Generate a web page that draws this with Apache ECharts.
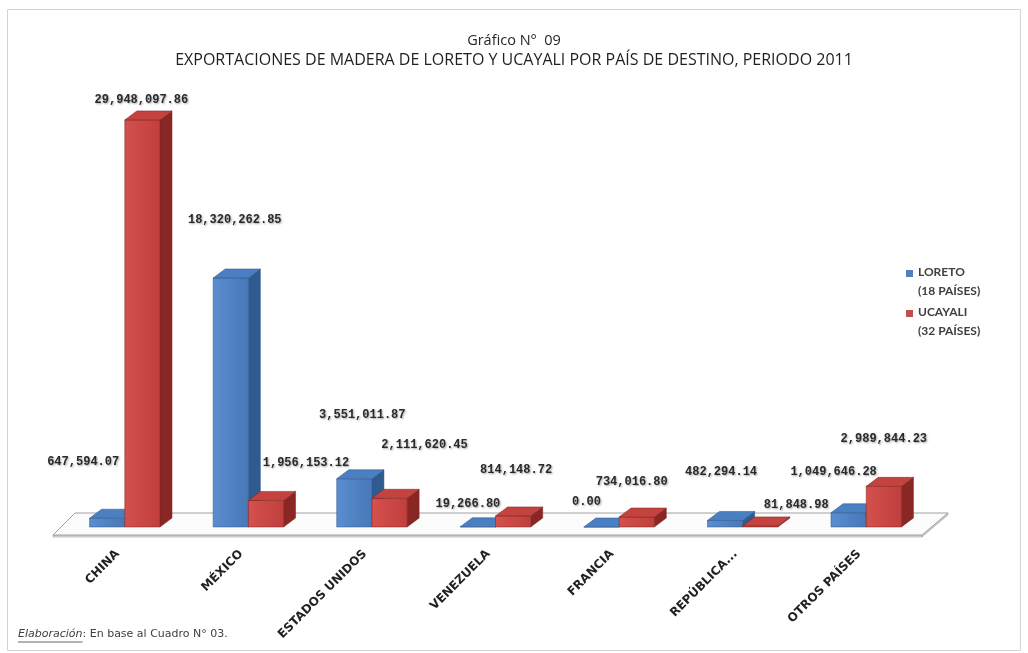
<!DOCTYPE html>
<html>
<head>
<meta charset="utf-8">
<script src="https://cdn.jsdelivr.net/npm/echarts@6/dist/echarts.min.js"></script>
<style>
  html, body { margin: 0; padding: 0; background: #ffffff; }
  #chart { width: 1028px; height: 653px; }
</style>
</head>
<body>
<div id="chart"></div>
<script>
// Destination countries and export values (US$) for 2011
const categories = ['CHINA', 'MÉXICO', 'ESTADOS UNIDOS', 'VENEZUELA', 'FRANCIA', 'REPÚBLICA...', 'OTROS PAÍSES'];
const loreto = [647594.07, 18320262.85, 3551011.87, 19266.80, 0.00, 482294.14, 1049646.28];
const ucayali = [29948097.86, 1956153.12, 2111620.45, 814148.72, 734016.80, 81848.98, 2989844.23];
const seriesNames = ['LORETO\n(18 PAÍSES)', 'UCAYALI\n(32 PAÍSES)'];

// Value-label placement, [dx, dy] from the top centre of each bar's front face
const loretoLabelShift = [[-24, -56], [4, -58], [8, -64], [-10, -23], [-15, -25], [-4, -48], [-15, -41]];
const ucayaliLabelShift = [[-1, -20], [40, -37], [35, -53], [3, -46], [-5, -35], [36, -21], [0, -47]];

const DX = 12, DY = -9;          // depth of each 3D column
const BAR_RATIO = 0.285;         // column width as a share of the category band

const palette = {
  loreto: { front: ['#5a8ed0', '#4778b8'], side: '#2f5b90', top: '#4a7fc2', edge: '#2c5486' },
  ucayali: { front: ['#d4514d', '#c03f3c'], side: '#892725', top: '#c5433f', edge: '#7d2321' }
};

function fmt(v) {
  return v.toLocaleString('en-US', { minimumFractionDigits: 2, maximumFractionDigits: 2 });
}

function barBox(isLoreto, api) {
  const i = api.value(0);
  const v = api.value(1);
  const base = api.coord([i, 0]);
  const top = api.coord([i, v]);
  const w = api.size([1, 0])[0] * BAR_RATIO;
  const x0 = isLoreto ? base[0] - w : base[0];
  return { i: i, v: v, x0: x0, x1: x0 + w, yb: base[1], yt: top[1] };
}

function columnRenderer(isLoreto) {
  const c = isLoreto ? palette.loreto : palette.ucayali;
  return function (params, api) {
    const b = barBox(isLoreto, api);
    return {
      type: 'group',
      children: [
        {
          type: 'polygon',
          shape: { points: [[b.x1, b.yt], [b.x1 + DX, b.yt + DY], [b.x1 + DX, b.yb + DY], [b.x1, b.yb]] },
          style: { fill: c.side, stroke: c.edge, lineWidth: 0.5 }
        },
        {
          type: 'rect',
          shape: { x: b.x0, y: b.yt, width: b.x1 - b.x0, height: b.yb - b.yt },
          style: {
            fill: new echarts.graphic.LinearGradient(0, 0, 1, 0, [
              { offset: 0, color: c.front[0] },
              { offset: 1, color: c.front[1] }
            ]),
            stroke: c.edge, lineWidth: 0.5
          }
        },
        {
          type: 'polygon',
          shape: { points: [[b.x0, b.yt], [b.x0 + DX, b.yt + DY], [b.x1 + DX, b.yt + DY], [b.x1, b.yt]] },
          style: { fill: c.top, stroke: c.edge, lineWidth: 0.5 }
        }
      ]
    };
  };
}

function labelRenderer(isLoreto, shifts) {
  return function (params, api) {
    const b = barBox(isLoreto, api);
    const sh = shifts[b.i];
    return {
      type: 'text',
      style: {
        text: fmt(b.v),
        x: (b.x0 + b.x1) / 2 + sh[0],
        y: b.yt + sh[1],
        align: 'center',
        verticalAlign: 'middle',
        fill: '#2a2a2a',
        fontFamily: '"Liberation Mono", "DejaVu Sans Mono", monospace',
        fontWeight: 'bold',
        fontSize: 12,
        textShadowColor: 'rgba(0,0,0,0.35)',
        textShadowBlur: 2,
        textShadowOffsetX: 1,
        textShadowOffsetY: 1
      }
    };
  };
}

// Floor plate under the columns, spanning every category band
function floorRenderer(params, api) {
  const first = api.coord([0, 0]);
  const last = api.coord([categories.length - 1, 0]);
  const band = api.size([1, 0])[0];
  const start = first[0] - band / 2;
  const end = last[0] + band / 2;
  const yb = first[1];
  const fl = [start - 10, yb + 8], fr = [end - 6, yb + 8];
  const br = [end + 20, yb - 14], bl = [start + 12, yb - 14];
  return {
    type: 'group',
    children: [
      {
        type: 'polygon',
        shape: { points: [[fl[0], fl[1]], [fr[0], fr[1]], [fr[0], fr[1] + 2], [fl[0], fl[1] + 2]] },
        style: { fill: '#d9d9d9', stroke: '#a6a6a6', lineWidth: 0.6 }
      },
      {
        type: 'polygon',
        shape: { points: [[fr[0], fr[1]], [br[0], br[1]], [br[0], br[1] + 2], [fr[0], fr[1] + 2]] },
        style: { fill: '#d0d0d0', stroke: '#a6a6a6', lineWidth: 0.6 }
      },
      {
        type: 'polygon',
        shape: { points: [fl, fr, br, bl] },
        style: { fill: '#fcfcfc', stroke: '#a0a0a0', lineWidth: 1 }
      }
    ]
  };
}

// Width of the underlined lead word in the source note
const NOTE_FONT = '"DejaVu Sans", Verdana, sans-serif';
const NOTE_SIZE = 11;
const measureCtx = document.createElement('canvas').getContext('2d');
measureCtx.font = 'italic ' + NOTE_SIZE + 'px ' + NOTE_FONT;
const leadWidth = measureCtx.measureText('Elaboración').width;

const chart = echarts.init(document.getElementById('chart'), null, { renderer: 'canvas' });

chart.setOption({
  backgroundColor: '#ffffff',
  animation: false,
  title: {
    text: 'Gráfico N°  09',
    subtext: 'EXPORTACIONES DE MADERA DE LORETO Y UCAYALI POR PAÍS DE DESTINO, PERIODO 2011',
    left: 'center',
    top: 28,
    itemGap: 4,
    textStyle: { fontFamily: '"Open Sans", Lato, sans-serif', fontSize: 14.5, fontWeight: 'normal', color: '#262626' },
    subtextStyle: { fontFamily: '"Open Sans", Lato, sans-serif', fontSize: 16, color: '#1f1f1f' }
  },
  legend: {
    data: seriesNames,
    orient: 'vertical',
    left: 901,
    top: 258,
    icon: 'path://M0,0L7,0L7,7L0,7Z M0,24L0.01,24L0.01,24.01Z',
    itemWidth: 7,
    itemHeight: 24,
    itemGap: 2,
    selectedMode: false,
    textStyle: { fontFamily: 'Lato, "Open Sans", sans-serif', fontSize: 12, fontWeight: 'bold', color: '#404040', lineHeight: 19 }
  },
  grid: { left: 63, right: 100, top: 92, bottom: 126 },
  xAxis: {
    type: 'category',
    data: categories,
    axisLine: { show: false },
    axisTick: { show: false },
    splitLine: { show: false },
    axisLabel: {
      interval: 0,
      rotate: 45,
      margin: 18,
      padding: [0, 10, 0, 0],
      fontFamily: '"DejaVu Sans", Verdana, sans-serif',
      fontWeight: 'bold',
      fontSize: 12,
      color: '#222222'
    }
  },
  yAxis: {
    type: 'value',
    min: 0,
    max: 32000000,
    show: false,
    splitLine: { show: false }
  },
  graphic: [
    {
      type: 'rect',
      shape: { x: 7.5, y: 9.5, width: 1013, height: 641 },
      style: { fill: 'none', stroke: '#d4d4d4', lineWidth: 1 },
      silent: true
    },
    {
      type: 'text',
      left: 18,
      top: 629,
      style: {
        text: '{em|Elaboración}: En base al Cuadro N° 03.',
        fontFamily: NOTE_FONT,
        fontSize: NOTE_SIZE,
        fill: '#404040',
        rich: {
          em: { fontStyle: 'italic', fontSize: NOTE_SIZE, fill: '#404040', fontFamily: NOTE_FONT }
        }
      }
    },
    {
      type: 'line',
      shape: { x1: 18, y1: 642, x2: 18 + leadWidth, y2: 642 },
      style: { stroke: '#404040', lineWidth: 0.8 }
    }
  ],
  series: [
    {
      type: 'custom',
      name: 'floor',
      renderItem: floorRenderer,
      data: [[0, 0]],
      encode: { x: 0, y: 1 },
      z: 1,
      silent: true
    },
    {
      type: 'custom',
      name: seriesNames[0],
      renderItem: columnRenderer(true),
      data: loreto.map((v, i) => [i, v]),
      encode: { x: 0, y: 1 },
      itemStyle: { color: '#4f81bd' },
      z: 2
    },
    {
      type: 'custom',
      name: seriesNames[1],
      renderItem: columnRenderer(false),
      data: ucayali.map((v, i) => [i, v]),
      encode: { x: 0, y: 1 },
      itemStyle: { color: '#c0504d' },
      z: 3
    },
    {
      type: 'custom',
      name: 'loretoValues',
      renderItem: labelRenderer(true, loretoLabelShift),
      data: loreto.map((v, i) => [i, v]),
      encode: { x: 0, y: 1 },
      z: 10,
      silent: true
    },
    {
      type: 'custom',
      name: 'ucayaliValues',
      renderItem: labelRenderer(false, ucayaliLabelShift),
      data: ucayali.map((v, i) => [i, v]),
      encode: { x: 0, y: 1 },
      z: 10,
      silent: true
    }
  ]
});
</script>
</body>
</html>
